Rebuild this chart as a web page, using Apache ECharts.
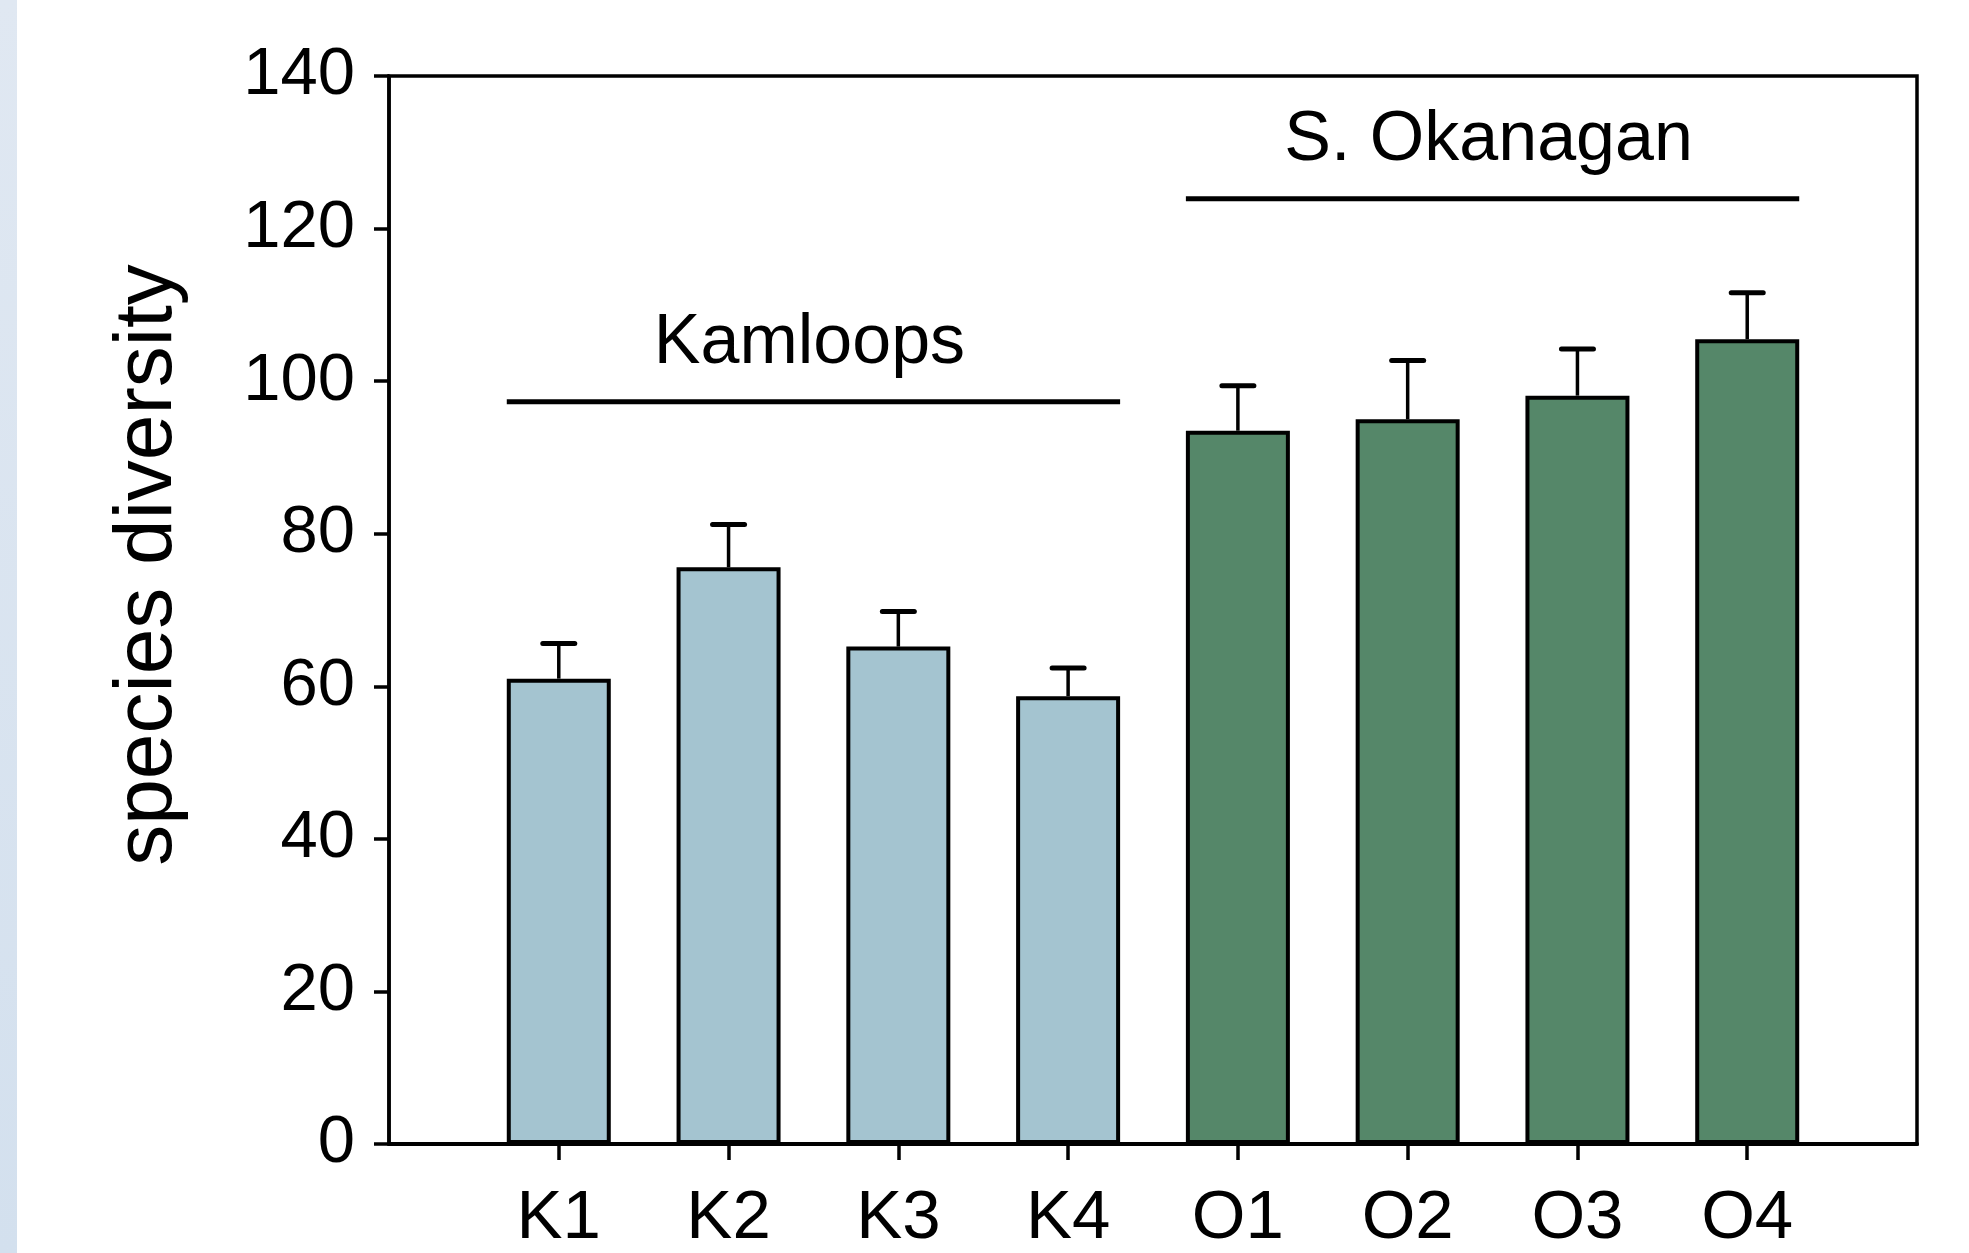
<!DOCTYPE html>
<html>
<head>
<meta charset="UTF-8">
<title>species diversity</title>
<script src="https://cdn.jsdelivr.net/npm/echarts@6/dist/echarts.min.js"></script>
<style>
  html, body { margin: 0; padding: 0; background: #fff; }
  #chart { width: 1969px; height: 1253px; }
</style>
</head>
<body>
<div id="chart"></div>
<script>
// sites in figure order, mean diversity and error (upper bar only)
var sites = ['K1', 'K2', 'K3', 'K4', 'O1', 'O2', 'O3', 'O4'];
var diversity = [61.0, 75.6, 65.2, 58.7, 93.5, 95.0, 98.1, 105.5];
var errors = [4.6, 5.6, 4.6, 3.7, 5.9, 7.7, 6.1, 6.1];

// region brackets above the bars
var regions = ['Kamloops', 'S. Okanagan'];
var regionFirst = ['K1', 'O1'];
var regionLast = ['K4', 'O4'];
var regionLevel = [97.3, 123.9];
var regionColors = ['#a4c4d0', '#558769'];

var yMin = 0, yMax = 140, yStep = 20;

var FONT = '"Liberation Sans", Arial, sans-serif';
var BAR_W = 104;

var chart = echarts.init(document.getElementById('chart'));

// one empty slot on each side, like the original axis
var axisCats = [''].concat(sites, ['']);

var barData = ['-'].concat(sites.map(function (s, i) {
  var region = s.charAt(0) === 'K' ? 0 : 1;
  return { value: diversity[i], itemStyle: { color: regionColors[region] } };
}), ['-']);

var errData = sites.map(function (s, i) {
  return [i + 1, diversity[i], diversity[i] + errors[i]];
});

var bracketData = regions.map(function (r, i) {
  return [sites.indexOf(regionFirst[i]) + 1, sites.indexOf(regionLast[i]) + 1, regionLevel[i]];
});

var option = {
  backgroundColor: '#ffffff',
  animation: false,
  graphic: [{
    type: 'rect',
    left: 0, top: 0,
    shape: { width: 17, height: 1253 },
    style: {
      fill: new echarts.graphic.LinearGradient(0, 0, 0, 1, [
        { offset: 0, color: '#e0e8f2' },
        { offset: 1, color: '#d3e0ee' }
      ])
    },
    silent: true
  }],
  grid: {
    left: 389, top: 76, right: 52, bottom: 106,
    show: true, borderColor: '#000', borderWidth: 3.5, backgroundColor: 'transparent'
  },
  xAxis: {
    type: 'category',
    data: axisCats,
    boundaryGap: false,
    axisLine: { show: true, lineStyle: { color: '#000', width: 4 } },
    axisTick: {
      show: true, length: 16, lineStyle: { color: '#000', width: 3.5 },
      interval: function (idx, val) { return val !== ''; }
    },
    axisLabel: {
      color: '#000', fontSize: 69, fontFamily: FONT, margin: 40,
      interval: 0
    },
    splitLine: { show: false }
  },
  yAxis: {
    type: 'value',
    min: yMin, max: yMax, interval: yStep,
    name: 'species diversity',
    nameLocation: 'middle',
    nameRotate: 90,
    nameGap: 200,
    nameTextStyle: { color: '#000', fontSize: 82, fontFamily: FONT, padding: [0, 0, 0, 90] },
    axisLine: { show: true, lineStyle: { color: '#000', width: 3.5 } },
    axisTick: { show: true, inside: false, length: 15, lineStyle: { color: '#000', width: 3.5 } },
    axisLabel: { color: '#000', fontSize: 67, fontFamily: FONT, margin: 34 },
    splitLine: { show: false }
  },
  series: [
    {
      type: 'bar',
      data: barData,
      barWidth: BAR_W,
      itemStyle: { borderColor: '#000', borderWidth: 4 },
      z: 2
    },
    {
      type: 'custom',
      data: errData,
      encode: { x: 0, y: [1, 2] },
      z: 3,
      renderItem: function (params, api) {
        var base = api.coord([api.value(0), api.value(1)]);
        var top = api.coord([api.value(0), api.value(2)]);
        var half = 16;
        return {
          type: 'group',
          children: [
            { type: 'line', shape: { x1: base[0], y1: base[1], x2: top[0], y2: top[1] },
              style: { stroke: '#000', lineWidth: 3.5 } },
            { type: 'line', shape: { x1: top[0] - half, y1: top[1], x2: top[0] + half, y2: top[1] },
              style: { stroke: '#000', lineWidth: 5, lineCap: 'round' } }
          ]
        };
      }
    },
    {
      type: 'custom',
      data: bracketData,
      encode: { x: [0, 1], y: 2 },
      z: 3,
      renderItem: function (params, api) {
        var a = api.coord([api.value(0), api.value(2)]);
        var b = api.coord([api.value(1), api.value(2)]);
        var half = BAR_W / 2;
        return {
          type: 'group',
          children: [
            { type: 'line', shape: { x1: a[0] - half, y1: a[1], x2: b[0] + half, y2: b[1] },
              style: { stroke: '#000', lineWidth: 5 } },
            { type: 'text', x: (a[0] + b[0]) / 2 - 4, y: a[1] - 58,
              style: { text: regions[params.dataIndex], font: '70px ' + FONT, fill: '#000',
                       align: 'center', verticalAlign: 'middle' } }
          ]
        };
      }
    }
  ]
};

chart.setOption(option);
</script>
</body>
</html>
